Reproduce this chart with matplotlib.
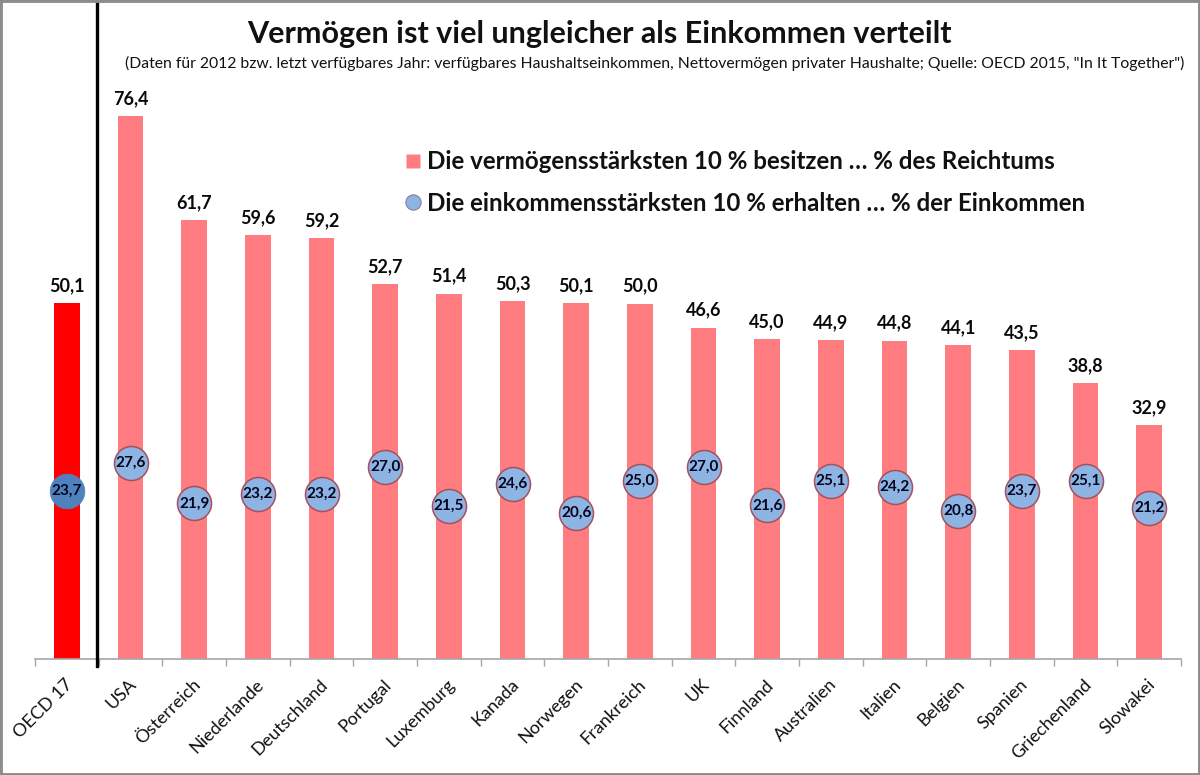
import matplotlib
matplotlib.use("Agg")
import matplotlib.pyplot as plt
from matplotlib.lines import Line2D
from matplotlib.patches import Rectangle
from matplotlib.transforms import ScaledTranslation

plt.rcParams['font.family'] = ['Lato', 'DejaVu Sans']

countries = ["OECD 17", "USA", "Österreich", "Niederlande", "Deutschland", "Portugal",
             "Luxemburg", "Kanada", "Norwegen", "Frankreich", "UK", "Finnland",
             "Australien", "Italien", "Belgien", "Spanien", "Griechenland", "Slowakei"]
wealth = [50.1, 76.4, 61.7, 59.6, 59.2, 52.7, 51.4, 50.3, 50.1, 50.0, 46.6, 45.0,
          44.9, 44.8, 44.1, 43.5, 38.8, 32.9]
income = [23.7, 27.6, 21.9, 23.2, 23.2, 27.0, 21.5, 24.6, 20.6, 25.0, 27.0, 21.6,
          25.1, 24.2, 20.8, 23.7, 25.1, 21.2]

title = "Vermögen ist viel ungleicher als Einkommen verteilt"
subtitle = ('(Daten für 2012 bzw. letzt verfügbares Jahr: verfügbares Haushaltseinkommen, '
            'Nettovermögen privater Haushalte; Quelle: OECD 2015, "In It Together")')
legend_wealth = "Die vermögensstärksten 10 % besitzen … % des Reichtums"
legend_income = "Die einkommensstärksten 10 % erhalten … % der Einkommen"

PINK = "#FF7C80"
RED = "#FF0000"
LIGHT_BLUE = "#8DB4E2"
DARK_BLUE = "#4F81BD"
EDGE = "#A5505A"
GREY = "#A6A6A6"


def fmt(v):
    return f"{v:.1f}".replace(".", ",")


fig = plt.figure(figsize=(12, 7.75), dpi=100, facecolor="white")
ax = fig.add_axes([35 / 1200, 116 / 775, 1146 / 1200, 659 / 775])
x = list(range(len(countries)))

bars = ax.bar(x, wealth, width=0.4, color=[RED] + [PINK] * (len(x) - 1), linewidth=0, zorder=2)
for xi, v in zip(x, wealth):
    ax.annotate(fmt(v), (xi, v), xytext=(0, 9), textcoords="offset pixels", ha="center",
                va="bottom", fontsize=13, fontweight="bold", color="#0A0A0A", zorder=5)

ax.plot(x[1:], income[1:], ls="none", marker="o", ms=24.5, mfc=LIGHT_BLUE, mec=EDGE, mew=1.1, zorder=3)
ax.plot(x[:1], income[:1], ls="none", marker="o", ms=25, mfc=DARK_BLUE, mec=DARK_BLUE, mew=0.5, zorder=3)
for xi, v in zip(x, income):
    ax.text(xi, v, fmt(v), ha="center", va="center", fontsize=11, fontweight="bold",
            color="#050520", zorder=6)

ax.set_xlim(-0.5, len(x) - 0.5)
ax.set_ylim(0, 92.7)
ax.set_yticks([])
for s in ("top", "left", "right"):
    ax.spines[s].set_visible(False)
ax.spines["bottom"].set_color(GREY)
ax.spines["bottom"].set_linewidth(1.2)
ax.patch.set_alpha(0)

ax.set_xticks([i - 0.5 for i in range(len(x) + 1)])
ax.set_xticklabels([])
ax.tick_params(axis="x", which="major", length=5, width=1, color=GREY)
ax.set_xticks(x, minor=True)
ax.set_xticklabels(countries, minor=True, rotation=45, ha="right", rotation_mode="anchor",
                   fontsize=13, color="#111111")
ax.tick_params(axis="x", which="minor", length=0, pad=12.5)
shift = ScaledTranslation(-2 / 100, 0, fig.dpi_scale_trans)
for lab in ax.get_xticklabels(minor=True):
    lab.set_transform(lab.get_transform() + shift)

ax.axvline(0.48, ymin=-7 / 659, ymax=656 / 659, color="black", lw=2.4, clip_on=False, zorder=7)

fig.text(599 / 1200, 1 - 34 / 775, title, ha="center", va="center", fontsize=22, fontweight="bold", color="#111111")
fig.text(1184 / 1200, 1 - 63 / 775, subtitle, ha="right", va="center", fontsize=11.37, color="#111111")

handles = [Line2D([], [], ls="none", marker="s", ms=10.5, mfc=PINK, mec="none"),
           Line2D([], [], ls="none", marker="o", ms=11, mfc=LIGHT_BLUE, mec="#8A7F9A", mew=0.8)]
leg = ax.legend(handles, [legend_wealth, legend_income], loc="upper left",
                bbox_to_anchor=(402 / 1200, 1 - 150 / 775), bbox_transform=fig.transFigure,
                frameon=False, handlelength=0.9, handleheight=0.7, handletextpad=0.15,
                labelspacing=0.78, borderpad=0, borderaxespad=0,
                prop={"size": 17.4, "weight": "bold"})
for t in leg.get_texts():
    t.set_color("#111111")

fig.add_artist(Rectangle((0, 0), 1, 1, transform=fig.transFigure, fill=False, edgecolor="#8C8C8C", linewidth=3.5))

fig.savefig("out.png", dpi=100)
